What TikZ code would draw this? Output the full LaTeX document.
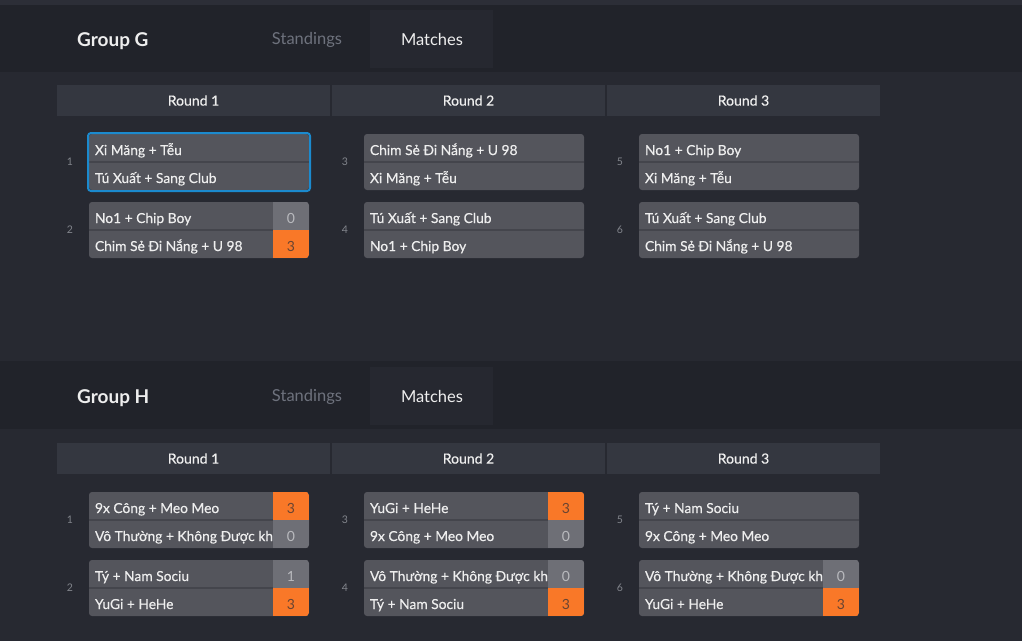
\documentclass[tikz,border=0pt]{standalone}
\usepackage{fontspec}
\setmainfont{Lato}
\newfontfamily\teamfont{Lato}[FakeBold=0.4]
\usetikzlibrary{positioning, calc}
\tikzset{>=stealth}

\definecolor{pagebg}{RGB}{39,41,49}
\definecolor{topstrip}{RGB}{44,46,55}
\definecolor{bandfill}{RGB}{33,35,42}
\definecolor{tabfill}{RGB}{38,40,48}
\definecolor{headfill}{RGB}{52,55,64}
\definecolor{gamefill}{RGB}{84,85,92}
\definecolor{divline}{RGB}{68,69,76}
\definecolor{scoregray}{RGB}{110,111,118}
\definecolor{scoreorange}{RGB}{249,120,40}
\definecolor{teamtext}{RGB}{238,238,238}
\definecolor{numtext}{RGB}{130,133,140}
\definecolor{dimtext}{RGB}{110,114,125}
\definecolor{losetext}{RGB}{185,186,190}
\definecolor{wintext}{RGB}{105,68,50}
\definecolor{pickblue}{RGB}{27,138,206}

\tikzset{
  x=1pt, y=-1pt,
  team/.style={anchor=north west, minimum height=28pt, text height=16pt, text depth=2pt, inner xsep=6pt, inner ysep=0pt, outer sep=0pt, text=teamtext, font=\teamfont\fontsize{13.8}{17}\selectfont},
  score/.style={anchor=north east, minimum width=36pt, minimum height=28pt, text height=16pt, text depth=2pt, inner sep=0pt, outer sep=0pt, font=\fontsize{14}{16}\selectfont},
  lose/.style={fill=scoregray, text=losetext},
  win/.style={fill=scoreorange, text=wintext},
  gamenum/.style={text=numtext, font=\fontsize{10.5}{12}\selectfont},
  roundhead/.style={fill=headfill, minimum width=273pt, minimum height=31pt, inner sep=0pt, outer sep=0pt, text=teamtext, font=\teamfont\fontsize{14}{16}\selectfont},
  grouptitle/.style={anchor=west, inner sep=0pt, text=teamtext, font=\fontsize{19}{22}\selectfont\bfseries},
  tablabel/.style={text=teamtext, font=\fontsize{16.5}{19}\selectfont},
  divider/.style={divline, line width=1.5pt}
}

% one match: name, x, y, number, first team, second team
\newcommand{\gamebox}[6]{%
  \fill[gamefill, rounded corners=3pt] (#2,#3) rectangle ++(220,56);
  \node[team] (#1a) at (#2,#3) {\makebox[208pt][l]{#5}};
  \node[team] (#1b) at (#2,#3+28) {\makebox[208pt][l]{#6}};
  \draw[divider] (#1a.south west) -- (#1a.south east);
  \node[gamenum] (#1n) at (#2-19,#3+28) {#4};
}
% scores of a match: name, first score, its style, second score, its style
\newcommand{\gamescores}[5]{%
  \begin{scope}
    \clip[rounded corners=3pt] (#1a.north west) rectangle (#1b.south east);
    \node[score, #3] (#1x) at (#1a.north east) {#2};
    \node[score, #5] (#1y) at (#1b.north east) {#4};
  \end{scope}
}

\begin{document}
\begin{tikzpicture}
  \fill[pagebg] (0,0) rectangle (1022,641);
  \useasboundingbox (0,0) rectangle (1022,641);
  \fill[topstrip] (0,0) rectangle (1022,5);

  % group G
  \fill[bandfill] (0,5) rectangle (1022,72);
  \fill[tabfill] (370,10) rectangle (493,68);
  \node[grouptitle] (Gtitle) at (77,41) {Group G};
  \node[tablabel, text=dimtext] (Gstand) at (307,39.5) {Standings};
  \node[tablabel] (Gmatch) at (432,39.5) {Matches};

  \node[roundhead, anchor=north west] (Gr1) at (57,85) {Round 1};
  \node[roundhead, right=2pt of Gr1] (Gr2) {Round 2};
  \node[roundhead, right=2pt of Gr2] (Gr3) {Round 3};

  \gamebox{G1}{89}{134}{1}{Xi Măng + Tễu}{Tú Xuất + Sang Club}
  \draw[pickblue, line width=2pt, rounded corners=3pt] ($(G1a.north west)+(-1,-1)$) rectangle ($(G1b.south east)+(1,1)$);
  \gamebox{G2}{89}{202}{2}{No1 + Chip Boy}{Chim Sẻ Đi Nắng + U 98}
  \gamescores{G2}{0}{lose}{3}{win}
  \gamebox{G3}{364}{134}{3}{Chim Sẻ Đi Nắng + U 98}{Xi Măng + Tễu}
  \gamebox{G4}{364}{202}{4}{Tú Xuất + Sang Club}{No1 + Chip Boy}
  \gamebox{G5}{639}{134}{5}{No1 + Chip Boy}{Xi Măng + Tễu}
  \gamebox{G6}{639}{202}{6}{Tú Xuất + Sang Club}{Chim Sẻ Đi Nắng + U 98}

  % group H
  \fill[bandfill] (0,361) rectangle (1022,429);
  \fill[tabfill] (370,367) rectangle (493,425);
  \node[grouptitle] (Htitle) at (77,398) {Group H};
  \node[tablabel, text=dimtext] (Hstand) at (307,396.5) {Standings};
  \node[tablabel] (Hmatch) at (432,396.5) {Matches};

  \node[roundhead, anchor=north west] (Hr1) at (57,443) {Round 1};
  \node[roundhead, right=2pt of Hr1] (Hr2) {Round 2};
  \node[roundhead, right=2pt of Hr2] (Hr3) {Round 3};

  \gamebox{H1}{89}{492}{1}{9x Công + Meo Meo}{Vô Thường + Không Được kh}
  \gamescores{H1}{3}{win}{0}{lose}
  \gamebox{H2}{89}{560}{2}{Tý + Nam Sociu}{YuGi + HeHe}
  \gamescores{H2}{1}{lose}{3}{win}
  \gamebox{H3}{364}{492}{3}{YuGi + HeHe}{9x Công + Meo Meo}
  \gamescores{H3}{3}{win}{0}{lose}
  \gamebox{H4}{364}{560}{4}{Vô Thường + Không Được kh}{Tý + Nam Sociu}
  \gamescores{H4}{0}{lose}{3}{win}
  \gamebox{H5}{639}{492}{5}{Tý + Nam Sociu}{9x Công + Meo Meo}
  \gamebox{H6}{639}{560}{6}{Vô Thường + Không Được kh}{YuGi + HeHe}
  \gamescores{H6}{0}{lose}{3}{win}
\end{tikzpicture}
\end{document}
